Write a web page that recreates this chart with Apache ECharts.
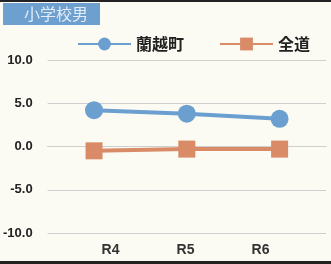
<!DOCTYPE html>
<html>
<head>
<meta charset="utf-8">
<script src="https://cdn.jsdelivr.net/npm/echarts@6/dist/echarts.min.js"></script>
<style>
html,body{margin:0;padding:0;background:#fcfbf3;}
#mychart{width:331px;height:264px;}
</style>
</head>
<body>
<div id="mychart"></div>
<script>
// 年度
var categories = ['R4', 'R5', 'R6'];
// 蘭越町 / 全道
var rankoshiData = [4.2, 3.8, 3.2];
var hokkaidoData = [-0.5, -0.3, -0.3];
var yTicks = [-10, -5, 0, 5, 10];

var myChart = echarts.init(document.getElementById('mychart'));
myChart.setOption({
    backgroundColor: '#fcfbf3',
    title: {
        text: '小学校男',
        left: 3,
        top: 3,
        padding: [3, 12, 3, 21],
        backgroundColor: '#6d9fcf',
        textStyle: { color: '#e3ecf6', fontSize: 16, fontWeight: 'normal', fontFamily: 'Noto Sans CJK JP' }
    },
    legend: {
        left: 72,
        top: 31,
        itemGap: 35,
        itemWidth: 53,
        itemHeight: 16,
        textStyle: { color: '#222', fontSize: 16, fontWeight: 'bold', fontFamily: 'Noto Sans CJK JP' },
        data: ['蘭越町', '全道']
    },
    graphic: [
        { type: 'rect', shape: { x: 0, y: 0, width: 331, height: 2 }, style: { fill: '#222' } },
        { type: 'rect', shape: { x: 0, y: 261, width: 331, height: 3 }, style: { fill: '#222' } }
    ],
    grid: [
        { left: 47, right: 5, top: 60, bottom: 31 },
        { left: 73, right: 33, top: 236, height: 1 }
    ],
    xAxis: [
        {
            type: 'category',
            data: categories,
            gridIndex: 0,
            axisLine: { lineStyle: { color: '#cfcfcf' } },
            axisTick: { show: false },
            axisLabel: { show: false }
        },
        {
            type: 'category',
            data: categories,
            gridIndex: 1,
            axisLine: { show: false },
            axisTick: { show: false },
            axisLabel: { margin: 6, color: '#333', fontSize: 14, fontWeight: 'bold', fontFamily: 'Liberation Sans' }
        }
    ],
    yAxis: [
        {
            type: 'value',
            gridIndex: 0,
            min: yTicks[0],
            max: yTicks[yTicks.length - 1],
            interval: 5,
            axisLine: { show: false },
            axisTick: { show: false },
            splitLine: { lineStyle: { color: '#cfcfcf' } },
            axisLabel: {
                margin: 15,
                color: '#222',
                fontSize: 13,
                fontWeight: 'bold',
                fontFamily: 'Liberation Sans',
                formatter: function (v) { return v.toFixed(1); }
            }
        },
        { type: 'value', gridIndex: 1, show: false }
    ],
    series: [
        {
            name: '蘭越町',
            type: 'line',
            data: rankoshiData,
            symbol: 'circle',
            symbolSize: 18,
            color: '#6a9fd0',
            lineStyle: { width: 4 }
        },
        {
            name: '全道',
            type: 'line',
            data: hokkaidoData,
            symbol: 'rect',
            symbolSize: 17,
            color: '#d98a66',
            lineStyle: { width: 4 }
        }
    ]
});
</script>
</body>
</html>
